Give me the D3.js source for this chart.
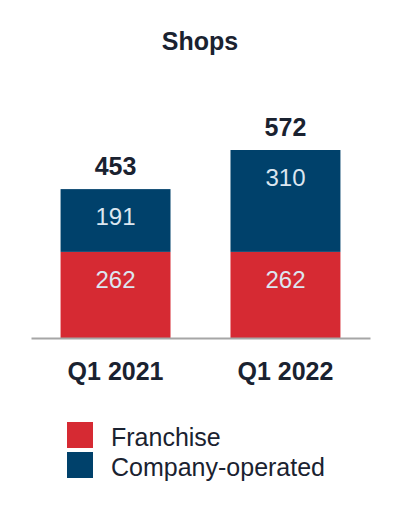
<!DOCTYPE html>
<html>
<head>
<meta charset="utf-8">
<script src="https://cdn.jsdelivr.net/npm/d3@7"></script>
<style>
  body { margin: 0; background: #fff; }
  svg { font-family: "Liberation Sans", Arial, sans-serif; }
</style>
</head>
<body>
<div id="chart"></div>
<script>
var categories = ["Q1 2021", "Q1 2022"];
var franchise = [262, 262];
var companyOperated = [191, 310];
var totals = [453, 572];
var seriesNames = ["Franchise", "Company-operated"];
var colors = ["#d62a33", "#00416b"];

var width = 400, height = 520;
var svg = d3.select("#chart").append("svg")
    .attr("width", width).attr("height", height);

svg.append("text")
    .attr("x", 200).attr("y", 50)
    .attr("text-anchor", "middle")
    .attr("font-size", 25).attr("font-weight", "bold")
    .attr("fill", "#1a2230")
    .text("Shops");

var x = d3.scaleBand().domain(categories).range([31, 370]).paddingInner(0.353).paddingOuter(0.174);
var y = d3.scaleLinear().domain([0, 572]).range([338, 150]);

var rows = categories.map(function(c, i) {
  return { cat: c, Franchise: franchise[i], "Company-operated": companyOperated[i], total: totals[i] };
});
var stacked = d3.stack().keys(seriesNames)(rows);

var layers = svg.append("g").selectAll("g")
    .data(stacked).enter().append("g")
    .attr("fill", function(d, i) { return colors[i]; });

layers.selectAll("rect")
    .data(function(d) { return d; })
    .enter().append("rect")
    .attr("x", function(d) { return x(d.data.cat); })
    .attr("y", function(d) { return y(d[1]); })
    .attr("width", x.bandwidth())
    .attr("height", function(d) { return y(d[0]) - y(d[1]); });

layers.selectAll("text")
    .data(function(d) { return d; })
    .enter().append("text")
    .attr("x", function(d) { return x(d.data.cat) + x.bandwidth() / 2; })
    .attr("y", function(d) { return y(d[1]) + 36; })
    .attr("text-anchor", "middle")
    .attr("font-size", 24)
    .attr("fill", "#dce6f0")
    .text(function(d) { return d[1] - d[0]; });

svg.append("g").selectAll("text")
    .data(rows).enter().append("text")
    .attr("x", function(d) { return x(d.cat) + x.bandwidth() / 2; })
    .attr("y", function(d) { return y(d.total) - 14; })
    .attr("text-anchor", "middle")
    .attr("font-size", 25).attr("font-weight", "bold")
    .attr("fill", "#1a2230")
    .text(function(d) { return d.total; });

var axis = svg.append("g")
    .attr("transform", "translate(0," + y(0) + ")")
    .call(d3.axisBottom(x).tickSize(0).tickPadding(24));
axis.select(".domain").attr("stroke", "#a6a6a6").attr("stroke-width", 2);
axis.selectAll("text")
    .attr("font-size", 25).attr("font-weight", "bold")
    .attr("fill", "#1a2230")
    .attr("font-family", "Liberation Sans, Arial, sans-serif");

var legend = svg.append("g").selectAll("g")
    .data(seriesNames).enter().append("g")
    .attr("transform", function(d, i) { return "translate(67," + (422 + i * 30) + ")"; });
legend.append("rect")
    .attr("width", 26).attr("height", 26)
    .attr("fill", function(d, i) { return colors[i]; });
legend.append("text")
    .attr("x", 44).attr("y", 24)
    .attr("font-size", 25)
    .attr("fill", "#1a2230")
    .text(function(d) { return d; });
</script>
</body>
</html>
